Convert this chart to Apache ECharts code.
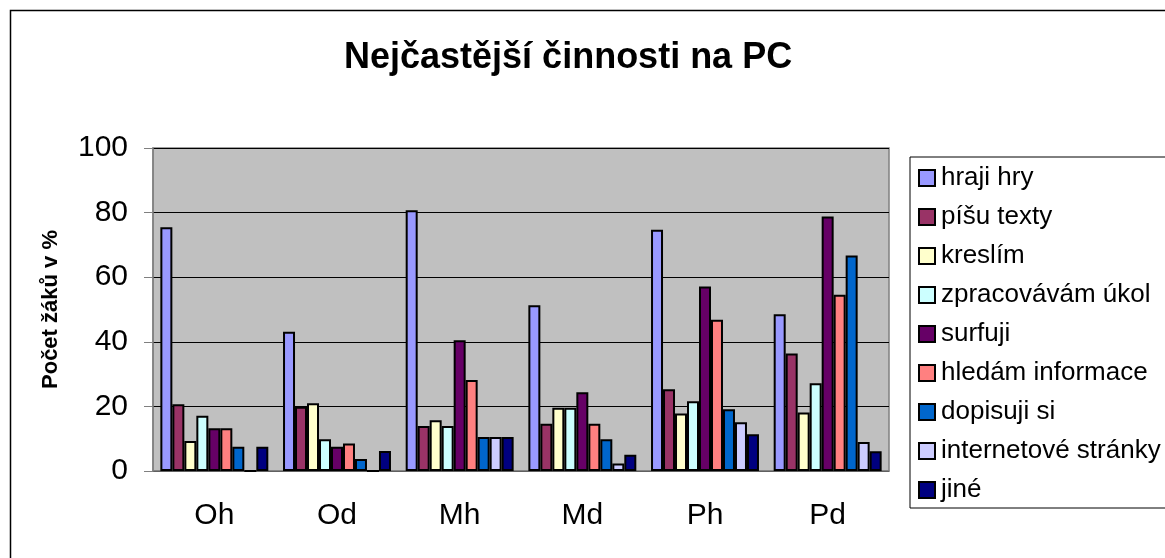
<!DOCTYPE html>
<html>
<head>
<meta charset="utf-8">
<script src="https://cdn.jsdelivr.net/npm/echarts@6/dist/echarts.min.js"></script>
<style>
html, body { margin: 0; padding: 0; background: #fff; }
#echarts { width: 1165px; height: 558px; }
</style>
</head>
<body>
<div id="echarts"></div>
<script>
/** 数据 */
var categories = ['Oh', 'Od', 'Mh', 'Md', 'Ph', 'Pd']
var seriesNames = ['hraji hry', 'píšu texty', 'kreslím', 'zpracovávám úkol', 'surfuji',
	'hledám informace', 'dopisuji si', 'internetové stránky', 'jiné']
var hrajiHry = [75.5, 43.1, 80.7, 51.3, 74.7, 48.5]
var pisuTexty = [20.7, 19.9, 13.9, 14.6, 25.3, 36.4]
var kreslim = [9.3, 21, 15.7, 19.6, 17.8, 18.1]
var zpracovavamUkol = [17.1, 9.8, 13.9, 19.6, 21.6, 27.2]
var surfuji = [13.2, 7.5, 40.5, 24.4, 57.1, 78.8]
var hledamInformace = [13.2, 8.5, 28.2, 14.6, 46.8, 54.6]
var dopisujiSi = [7.5, 3.7, 10.5, 9.8, 19.1, 66.7]
var internetoveStranky = [0, 0, 10.5, 2.3, 15.1, 9.0]
var jine = [7.5, 6.2, 10.5, 5, 11.4, 6.1]
var yTicks = [0, 20, 40, 60, 80, 100]

/** 样式 */
var colors = ['#9999FF', '#993366', '#FFFFCC', '#CCFFFF', '#660066',
	'#FF8080', '#0066CC', '#CCCCFF', '#000080']
var font = 'Liberation Sans, Arial, sans-serif'

var myChart
var option

/** 初始化option */
var initOption = function() {
	var values = [hrajiHry, pisuTexty, kreslim, zpracovavamUkol, surfuji,
		hledamInformace, dopisujiSi, internetoveStranky, jine]
	var series = []
	for (var i = 0; i < seriesNames.length; i++) {
		series.push({
			name: seriesNames[i],
			type: 'bar',
			data: values[i],
			barGap: '0%',
			barCategoryGap: '12%',
			itemStyle: {
				color: colors[i],
				borderColor: '#000',
				borderWidth: 2
			}
		})
	}

	option = {
		animation: false,
		color: colors,
		title: {
			text: 'Nejčastější činnosti na PC',
			left: 339,
			top: 35,
			textStyle: {
				fontFamily: font,
				fontSize: 36,
				fontWeight: 'bold',
				color: '#000'
			}
		},
		legend: {
			orient: 'vertical',
			left: 910,
			top: 157,
			padding: [8, 30, 5, 8],
			itemGap: 13,
			itemWidth: 16,
			itemHeight: 16,
			borderColor: '#000',
			borderWidth: 1,
			data: seriesNames,
			icon: 'rect',
			itemStyle: {
				borderColor: '#000',
				borderWidth: 2
			},
			textStyle: {
				fontFamily: font,
				fontSize: 26,
				lineHeight: 26,
				color: '#000',
				padding: [0, 0, 0, 1]
			}
		},
		grid: {
			left: 153,
			right: 276,
			top: 148,
			bottom: 87,
			show: true,
			backgroundColor: '#C0C0C0',
			borderColor: '#808080',
			borderWidth: 1.5
		},
		xAxis: {
			type: 'category',
			data: categories,
			axisLine: { lineStyle: { color: '#808080', width: 1.5 } },
			axisTick: { length: 10, lineStyle: { color: '#404040' } },
			axisLabel: {
				margin: 30,
				fontFamily: font,
				fontSize: 30,
				color: '#000'
			}
		},
		yAxis: {
			type: 'value',
			min: yTicks[0],
			max: yTicks[yTicks.length - 1],
			interval: 20,
			name: 'Počet žáků v %',
			nameLocation: 'middle',
			nameGap: 91,
			nameTextStyle: {
				fontFamily: font,
				fontSize: 22,
				fontWeight: 'bold',
				color: '#000'
			},
			axisLine: { show: true, lineStyle: { color: '#808080', width: 1.5 } },
			axisTick: { show: true, length: 9, lineStyle: { color: '#808080' } },
			splitLine: { lineStyle: { color: '#000', width: 1 } },
			axisLabel: {
				margin: 25,
				fontFamily: font,
				fontSize: 30,
				color: '#000'
			}
		},
		graphic: [{
			type: 'rect',
			shape: { x: 10.5, y: 10.5, width: 1200, height: 600 },
			style: { fill: null, stroke: '#000', lineWidth: 1.5 },
			silent: true,
			z: -1
		}],
		series: series
	}
}

/** 初始化图表 */
var initChart = function() {
	myChart = echarts.init(document.getElementById('echarts'), null, { renderer: 'canvas' })
}

initOption()
initChart()
myChart.setOption(option)
</script>
</body>
</html>
